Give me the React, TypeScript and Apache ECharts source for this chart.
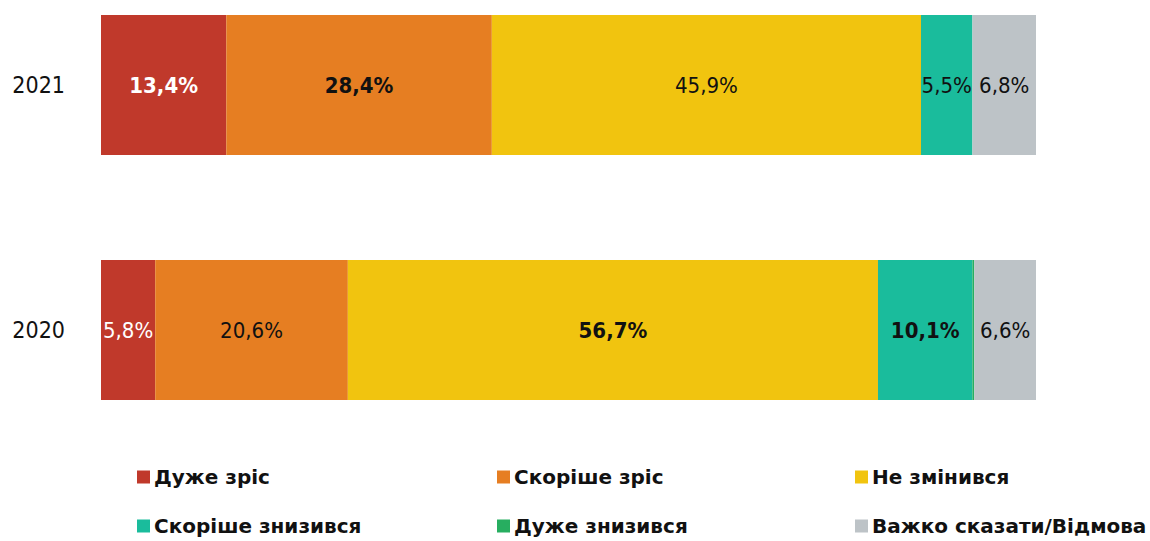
import React, { useEffect, useRef } from "react";
import * as echarts from "echarts";

const categories = ["2021", "2020"];
const seriesNames = [
  "Дуже зріс",
  "Скоріше зріс",
  "Не змінився",
  "Скоріше знизився",
  "Дуже знизився",
  "Важко сказати/Відмова",
];
const colors = ["#C0392B", "#E67E22", "#F1C40F", "#1ABC9C", "#27AE60", "#BDC3C7"];
const values2021 = [13.4, 28.4, 45.9, 5.5, 0, 6.8];
const values2020 = [5.8, 20.6, 56.7, 10.1, 0.2, 6.6];
// label styles per [series][category]
const boldLabels = [
  [true, false],
  [true, false],
  [false, true],
  [false, true],
  [false, false],
  [false, false],
];
const whiteLabels = [
  [true, true],
  [false, false],
  [false, false],
  [false, false],
  [false, false],
  [false, false],
];
const legendPos = [
  [137, 467],
  [497, 467],
  [855, 467],
  [137, 516],
  [497, 516],
  [855, 516],
];

const FONT = "'DejaVu Sans Condensed', 'DejaVu Sans', sans-serif";
const LEGEND_FONT = "'DejaVu Sans', sans-serif";

export default function App() {
  const ref = useRef<HTMLDivElement>(null);
  useEffect(() => {
    if (!ref.current) return;
    const chart = echarts.init(ref.current, undefined, { renderer: "svg" });
    const series = seriesNames.map((name, si) => ({
      name,
      type: "bar",
      stack: "total",
      barWidth: 140,
      itemStyle: { color: colors[si] },
      data: [values2021[si], values2020[si]].map((v, ci) => ({
        value: v,
        label: {
          show: v >= 1,
          position: "inside",
          formatter: (p: any) => String(p.value).replace(".", ",") + "%",
          fontFamily: FONT,
          fontSize: 22,
          fontWeight: boldLabels[si][ci] ? "bold" : "normal",
          color: whiteLabels[si][ci] ? "#ffffff" : "#111111",
        },
      })),
    }));
    const legends = seriesNames.map((name, i) => ({
      show: true,
      data: [name],
      left: legendPos[i][0],
      top: legendPos[i][1],
      itemWidth: 13,
      itemHeight: 13,
      itemGap: 5,
      icon: "rect",
      padding: 0,
      selectedMode: false,
      textStyle: {
        fontFamily: LEGEND_FONT,
        fontWeight: "bold",
        fontSize: 20,
        color: "#111111",
        padding: [0, 0, 0, -1],
      },
    }));
    chart.setOption({
      animation: false,
      backgroundColor: "#ffffff",
      legend: legends,
      grid: { left: 101, right: 114, top: 85, height: 245, containLabel: false },
      xAxis: {
        type: "value",
        min: 0,
        max: 100,
        show: false,
      },
      yAxis: {
        type: "category",
        data: categories,
        inverse: true,
        boundaryGap: false,
        axisLine: { show: false },
        axisTick: { show: false },
        splitLine: { show: false },
        axisLabel: {
          margin: 36,
          fontFamily: FONT,
          fontSize: 23,
          color: "#111111",
        },
      },
      series,
    });
    return () => chart.dispose();
  }, []);
  return <div ref={ref} style={{ width: 1150, height: 541, position: "absolute", left: 0, top: 0 }} />;
}
